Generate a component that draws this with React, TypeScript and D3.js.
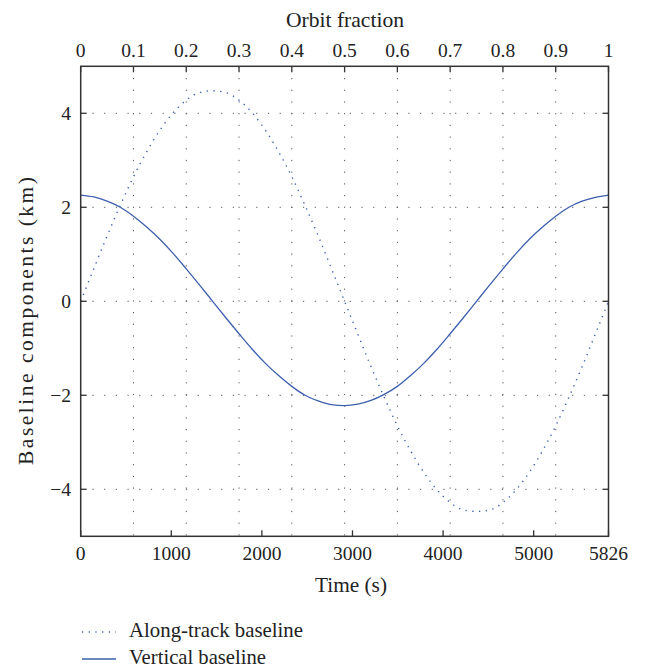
import React from "react";
import * as d3 from "d3";

const orbitFraction = [0,0.025,0.05,0.075,0.1,0.125,0.15,0.175,0.2,0.225,0.25,0.275,0.3,0.325,0.35,0.375,0.4,0.425,0.45,0.475,0.5,0.525,0.55,0.575,0.6,0.625,0.65,0.675,0.7,0.725,0.75,0.775,0.8,0.825,0.85,0.875,0.9,0.925,0.95,0.975,1];
const alongTrack = [0,0.70,1.39,2.04,2.65,3.18,3.64,4.01,4.28,4.44,4.48,4.44,4.28,4.01,3.64,3.18,2.65,2.04,1.39,0.70,0,-0.70,-1.39,-2.04,-2.65,-3.18,-3.64,-4.01,-4.28,-4.44,-4.47,-4.44,-4.28,-4.01,-3.64,-3.18,-2.65,-2.04,-1.39,-0.70,0];
const vertical = [2.26,2.22,2.13,2.00,1.81,1.58,1.32,1.02,0.69,0.35,0,-0.35,-0.69,-1.02,-1.32,-1.58,-1.81,-2.00,-2.12,-2.20,-2.22,-2.19,-2.11,-1.98,-1.81,-1.58,-1.32,-1.02,-0.69,-0.35,0,0.35,0.69,1.02,1.32,1.58,1.81,2.00,2.13,2.21,2.26];
const period = 5826;
const bottomTicks = [0,1000,2000,3000,4000,5000,5826];
const topTicks = [0,0.1,0.2,0.3,0.4,0.5,0.6,0.7,0.8,0.9,1];
const yTicks = [-4,-2,0,2,4];

const L = 80.7, R = 608.5, T = 66.3, B = 536.3;
const FONT = "'Liberation Serif', 'DejaVu Serif', serif";
const AX = "#333";
const BLUE = "#3d5fae";
const TXT = "#222";

export default function App() {
  const x = d3.scaleLinear().domain([0, period]).range([L, R]);
  const xf = d3.scaleLinear().domain([0, 1]).range([L, R]);
  const y = d3.scaleLinear().domain([-5, 5]).range([B, T]);
  const line = d3.line<number>().x((_, i) => xf(orbitFraction[i])).y(d => y(d)).curve(d3.curveMonotoneX);
  const fmt = (v: number) => (v < 0 ? "\u2212" + Math.abs(v) : String(v));
  return (
    <svg width={645} height={668} style={{ position: "absolute", left: 0, top: 0, background: "#fff" }}>
      {topTicks.filter(t => t > 0 && t < 1).map(t => (
        <line key={"gv" + t} x1={xf(t)} x2={xf(t)} y1={T} y2={B} stroke="#555" strokeWidth={1} strokeDasharray="1.2,10.5" />
      ))}
      {yTicks.map(t => (
        <line key={"gh" + t} x1={L} x2={R} y1={y(t)} y2={y(t)} stroke="#555" strokeWidth={1} strokeDasharray="1.2,10.5" />
      ))}
      <path d={line(alongTrack) || ""} fill="none" stroke={BLUE} strokeWidth={1.4} strokeDasharray="1.3,5.5" />
      <path d={line(vertical) || ""} fill="none" stroke={BLUE} strokeWidth={1.3} />
      <rect x={L} y={T} width={R - L} height={B - T} fill="none" stroke={AX} strokeWidth={1.5} />
      {bottomTicks.map(t => (
        <g key={"bt" + t}>
          <line x1={x(t)} x2={x(t)} y1={B} y2={B - 6} stroke={AX} strokeWidth={1.3} />
          <text x={x(t)} y={560} textAnchor="middle" fontFamily={FONT} fontSize={19.5} fill={TXT}>{t}</text>
        </g>
      ))}
      {topTicks.map(t => (
        <g key={"tt" + t}>
          <line x1={xf(t)} x2={xf(t)} y1={T} y2={T + 6} stroke={AX} strokeWidth={1.3} />
          <text x={xf(t)} y={57} textAnchor="middle" fontFamily={FONT} fontSize={19.5} fill={TXT}>{String(t)}</text>
        </g>
      ))}
      {yTicks.map(t => (
        <g key={"yt" + t}>
          <line x1={L} x2={L + 6} y1={y(t)} y2={y(t)} stroke={AX} strokeWidth={1.3} />
          <line x1={R} x2={R - 6} y1={y(t)} y2={y(t)} stroke={AX} strokeWidth={1.3} />
          <text x={71} y={y(t) + 7} textAnchor="end" fontFamily={FONT} fontSize={19.5} fill={TXT}>{fmt(t)}</text>
        </g>
      ))}
      <text x={345} y={27} textAnchor="middle" fontFamily={FONT} fontSize={21.5} fill={TXT} textLength={118} lengthAdjust="spacingAndGlyphs">Orbit fraction</text>
      <text x={351} y={592} textAnchor="middle" fontFamily={FONT} fontSize={21.5} fill={TXT} textLength={72} lengthAdjust="spacingAndGlyphs">Time (s)</text>
      <text transform="translate(33,321) rotate(-90)" textAnchor="middle" fontFamily={FONT} fontSize={21.5} fill={TXT} textLength={288} lengthAdjust="spacing">Baseline components (km)</text>
      <line x1={82} x2={116} y1={632} y2={632} stroke={BLUE} strokeWidth={1.3} strokeDasharray="1.2,5.5" />
      <text x={129} y={637} fontFamily={FONT} fontSize={21} fill={TXT} textLength={174} lengthAdjust="spacingAndGlyphs">Along-track baseline</text>
      <line x1={82} x2={116} y1={659} y2={659} stroke={BLUE} strokeWidth={1.3} />
      <text x={129} y={664} fontFamily={FONT} fontSize={21} fill={TXT} textLength={137} lengthAdjust="spacingAndGlyphs">Vertical baseline</text>
    </svg>
  );
}
